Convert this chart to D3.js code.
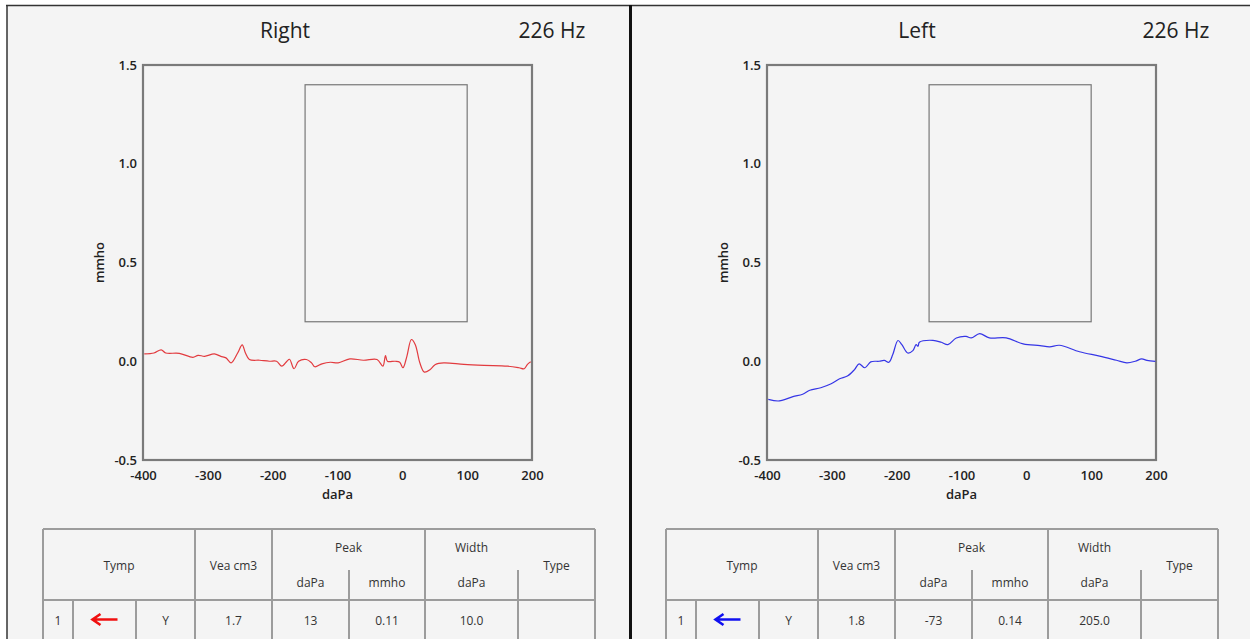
<!DOCTYPE html>
<html>
<head>
<meta charset="utf-8">
<script src="https://cdn.jsdelivr.net/npm/d3@7"></script>
<style>
  html, body { margin: 0; padding: 0; background: #fff; }
  svg { display: block; font-family: "Open Sans", "Noto Sans", sans-serif; }
</style>
</head>
<body>
<svg id="chart"></svg>
<script>
// Tympanogram data (daPa vs mmho)
const rightPressure = [-398, -383, -372, -365, -344, -323, -315, -305, -290, -280, -272, -264, -254, -247, -242, -236, -220, -205, -194, -186, -178, -174, -167, -160, -148, -140, -135, -124, -111, -99, -81, -60, -39, -30, -26, -23, -11, -4, 1, 7, 14, 20, 27, 34, 43, 51, 64, 95, 126, 162, 180, 188, 193, 198];
const rightAdmittance = [0.037, 0.042, 0.058, 0.042, 0.04, 0.02, 0.03, 0.025, 0.037, 0.025, 0.017, -0.008, 0.042, 0.083, 0.042, 0.009, 0.005, 0.0, 0.0, -0.025, 0.0, 0.01, -0.038, 0.0, 0.009, -0.008, -0.028, -0.013, -0.005, -0.008, 0.012, 0.005, 0.009, -0.025, 0.029, 0.0, 0.0, -0.005, -0.033, 0.025, 0.11, 0.084, -0.008, -0.055, -0.042, -0.016, -0.008, -0.016, -0.021, -0.025, -0.033, -0.038, -0.016, -0.003];

const leftPressure = [-398, -381, -360, -345, -334, -317, -301, -288, -276, -265, -258, -249, -240, -227, -219, -212, -206, -198, -192, -183, -175, -170, -167, -165, -144, -131, -121, -108, -93, -85, -72, -57, -31, -5, 21, 36, 51, 82, 113, 139, 155, 168, 178, 186, 199];
const leftAdmittance = [-0.193, -0.201, -0.179, -0.167, -0.147, -0.134, -0.114, -0.089, -0.075, -0.042, -0.013, -0.033, -0.003, 0.0, 0.004, -0.005, 0.034, 0.105, 0.084, 0.042, 0.054, 0.084, 0.076, 0.096, 0.106, 0.096, 0.084, 0.118, 0.126, 0.118, 0.14, 0.118, 0.118, 0.088, 0.079, 0.073, 0.081, 0.048, 0.026, 0.005, -0.008, 0.0, 0.012, 0.004, -0.001];

const xTicks = [-400, -300, -200, -100, 0, 100, 200];
const yTicks = [-0.5, 0.0, 0.5, 1.0, 1.5];
const normPressure = [-150, 100];
const normAdmittance = [0.2, 1.4];

const headerTop = ['Tymp', 'Vea cm3', 'Peak', 'Width', 'Type'];
const headerSub = ['daPa', 'mmho', 'daPa'];
const rightRow = ['1', '', 'Y', '1.7', '13', '0.11', '10.0', ''];
const leftRow = ['1', '', 'Y', '1.8', '-73', '0.14', '205.0', ''];

const width = 1250, height = 639;
const svg = d3.select('#chart').attr('width', width).attr('height', height);

// page frame
svg.append('rect').attr('x', 7).attr('y', 6).attr('width', width - 7).attr('height', height - 6).attr('fill', '#f4f4f4');
svg.append('line').attr('x1', 6).attr('x2', width).attr('y1', 5.5).attr('y2', 5.5).attr('stroke', '#333').attr('stroke-width', 1.5);
svg.append('line').attr('x1', 7).attr('x2', 7).attr('y1', 5).attr('y2', height).attr('stroke', '#333').attr('stroke-width', 1.5);
svg.append('line').attr('x1', 630.5).attr('x2', 630.5).attr('y1', 5).attr('y2', height).attr('stroke', '#111').attr('stroke-width', 3);

const panels = [
  { title: 'Right', titleX: 285, off: 0, tOff: 0, color: '#e23b3f', arrow: '#f01010', pressure: rightPressure, admittance: rightAdmittance, row: rightRow },
  { title: 'Left', titleX: 917, off: 624, tOff: 623, color: '#3535e6', arrow: '#1010f0', pressure: leftPressure, admittance: leftAdmittance, row: leftRow }
];

// table column edges (relative to the right-ear table)
const cols = [43, 73, 136, 195, 272, 349, 425, 518, 595];

// plain hyphen for negatives, as in the picture
const fmtX = d => String(d);
const fmtY = d => d3.format('.1f')(d).replace('\u2212', '-');

panels.forEach(p => {
  const g = svg.append('g');
  const x = d3.scaleLinear().domain([-400, 200]).range([143 + p.off, 532 + p.off]);
  const y = d3.scaleLinear().domain([-0.5, 1.5]).range([460, 65]);

  // titles
  g.append('text').attr('x', p.titleX).attr('y', 38).attr('text-anchor', 'middle')
    .attr('font-size', 21).attr('fill', '#222').text(p.title);
  g.append('text').attr('x', 552 + p.off).attr('y', 38).attr('text-anchor', 'middle')
    .attr('font-size', 21).attr('fill', '#222').text('226 Hz');

  // axes (labels only, frame drawn below)
  const xAxis = g.append('g').attr('transform', `translate(0,460)`)
    .call(d3.axisBottom(x).tickValues(xTicks).tickSize(0).tickPadding(11).tickFormat(fmtX));
  const yAxis = g.append('g').attr('transform', `translate(${143 + p.off},0)`)
    .call(d3.axisLeft(y).tickValues(yTicks).tickSize(0).tickPadding(6).tickFormat(fmtY));
  [xAxis, yAxis].forEach(a => {
    a.select('.domain').remove();
    a.selectAll('text').attr('font-size', 13).attr('font-weight', 600).attr('fill', '#222')
      .attr('font-family', '"Open Sans", sans-serif');
  });

  g.append('text').attr('x', x(-100)).attr('y', 499).attr('text-anchor', 'middle')
    .attr('font-size', 13).attr('font-weight', 600).attr('fill', '#222').text('daPa');
  g.append('text').attr('transform', `translate(${104 + p.off},${y(0.5)}) rotate(-90)`)
    .attr('text-anchor', 'middle').attr('font-size', 13).attr('font-weight', 600).attr('fill', '#222').text('mmho');

  // plot frame
  g.append('rect').attr('x', x(-400)).attr('y', y(1.5)).attr('width', x(200) - x(-400)).attr('height', y(-0.5) - y(1.5))
    .attr('fill', 'none').attr('stroke', '#7a7a7a').attr('stroke-width', 2.2);

  // normal region box
  g.append('rect').attr('x', x(normPressure[0])).attr('y', y(normAdmittance[1]))
    .attr('width', x(normPressure[1]) - x(normPressure[0])).attr('height', y(normAdmittance[0]) - y(normAdmittance[1]))
    .attr('fill', 'none').attr('stroke', '#777').attr('stroke-width', 1.2);

  // curve
  const pts = p.pressure.map((d, i) => [d, p.admittance[i]]);
  g.append('path').datum(pts)
    .attr('d', d3.line().x(d => x(d[0])).y(d => y(d[1])).curve(d3.curveCatmullRom.alpha(0.5)))
    .attr('fill', 'none').attr('stroke', p.color).attr('stroke-width', 1.2);

  // result table
  const c = cols.map(v => v + p.tOff);
  const top = 529, mid = 570, rowTop = 600, bottom = 645;
  const tl = g.append('g').attr('stroke', '#9c9c9c').attr('stroke-width', 2);
  tl.append('line').attr('x1', c[0]).attr('x2', c[8]).attr('y1', top).attr('y2', top);
  tl.append('line').attr('x1', c[0]).attr('x2', c[8]).attr('y1', rowTop).attr('y2', rowTop);
  [0, 3, 4, 6, 8].forEach(i => tl.append('line').attr('x1', c[i]).attr('x2', c[i]).attr('y1', top).attr('y2', bottom));
  [5, 7].forEach(i => tl.append('line').attr('x1', c[i]).attr('x2', c[i]).attr('y1', mid).attr('y2', bottom));
  [1, 2].forEach(i => tl.append('line').attr('x1', c[i]).attr('x2', c[i]).attr('y1', rowTop).attr('y2', bottom));

  const txt = (tx, ty, s) => g.append('text').attr('x', tx).attr('y', ty).attr('text-anchor', 'middle')
    .attr('font-size', 12).attr('fill', '#333').text(s);
  const cx = (a, b) => (c[a] + c[b]) / 2;
  txt(cx(0, 3), 570, headerTop[0]);
  txt(cx(3, 4), 570, headerTop[1]);
  txt(cx(4, 6), 552, headerTop[2]);
  txt(cx(6, 7), 552, headerTop[3]);
  txt(cx(7, 8), 570, headerTop[4]);
  txt(cx(4, 5), 587, headerSub[0]);
  txt(cx(5, 6), 587, headerSub[1]);
  txt(cx(6, 7), 587, headerSub[2]);

  p.row.forEach((s, i) => {
    if (i === 1) {
      const ax = cx(1, 2);
      g.append('path').attr('d', `M${ax + 13},619.5 H${ax - 11} M${ax - 4},614 L${ax - 12},619.5 L${ax - 4},625`)
        .attr('fill', 'none').attr('stroke', p.arrow).attr('stroke-width', 2.6);
    } else if (s) {
      txt(i === 0 ? c[0] + 15 : cx(i, i + 1), 625, s);
    }
  });
});
</script>
</body>
</html>
